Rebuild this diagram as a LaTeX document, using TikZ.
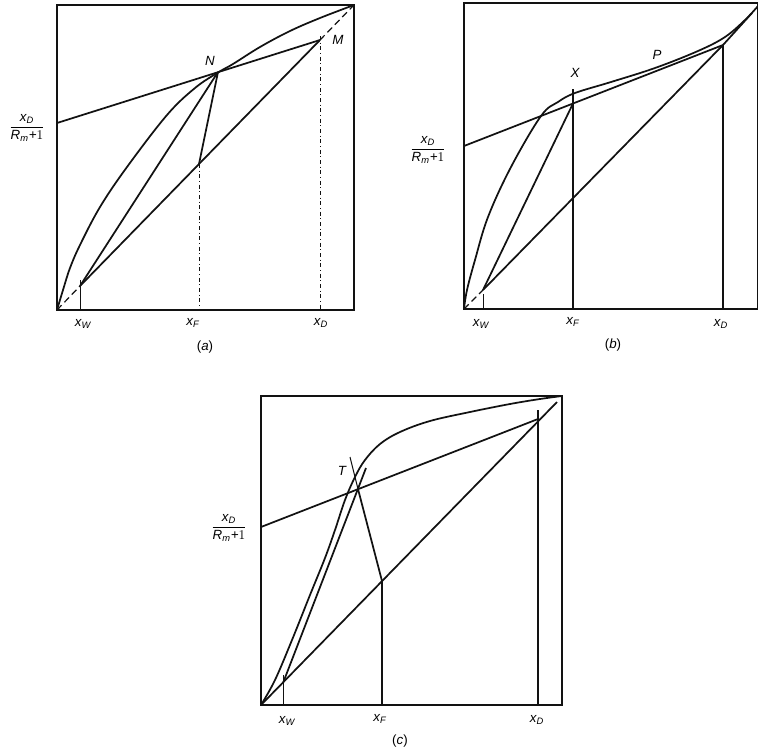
\documentclass[tikz,border=0pt]{standalone}
\usepackage{fontspec}
\setmainfont{Liberation Sans}
\usepackage{amsmath}
\usetikzlibrary{calc}
\definecolor{ink}{RGB}{18,18,18}
\tikzset{
  frame/.style={draw=ink,line width=1.2pt},
  opline/.style={draw=ink,line width=1.3pt},
  eqcurve/.style={draw=ink,line width=1.3pt,smooth,tension=0.6},
  thinline/.style={draw=ink,line width=0.75pt},
  dashline/.style={draw=ink,line width=0.9pt,dash pattern=on 5pt off 3pt},
  lbl/.style={font=\normalsize\itshape,inner sep=1pt},
}
\newcommand{\xsb}[1]{x\textsubscript{#1}}
\newcommand{\yfrac}{$\dfrac{\textit{x}_{\textit{D}}}{\textit{R}_{\textit{m}}\textit{+}1}$}

\begin{document}
\begin{tikzpicture}[x=0.75pt,y=-0.75pt]
  \useasboundingbox (0,0) rectangle (758,754);

  % (a)
  \coordinate (aO) at (57,310);
  \coordinate (aE) at (354,5);
  \coordinate (aW) at (80,286);
  \coordinate (aF) at (199,164);
  \coordinate (aM) at (320,40);
  \coordinate (aI) at (57,123);
  \coordinate (aN) at (218,72);
  \draw[frame] (aO) rectangle (aE);
  \draw[dashline] (aO) -- (aW);
  \draw[opline] (aW) -- (aM);
  \draw[dashline] (aM) -- (aE);
  \draw[eqcurve] plot coordinates {(57,310) (63,290) (70,268) (80,245) (100,207) (127,167)
    (167,115) (195,88) (218,72.5) (233,64) (260,47) (290,31) (320,18) (354,5)};
  \draw[opline] (aI) -- (aM);
  \draw[opline] (aW) -- (aN);
  \draw[opline] (aN) -- (aF);
  \draw[thinline,dash dot] (aF) -- (aF |- aO);
  \draw[thinline] ($(aW)+(0,-6)$) -- (aW |- aO);
  \draw[thinline,dash dot] ($(aM)+(0,-4)$) -- (aM |- aO);
  \node[lbl] (aNl) at (210,61) {N};
  \node[lbl] (aMl) at (338,40) {M};
  \node[lbl] (aYl) at (27,128) {\yfrac};
  \node[lbl] (aWl) at (83,324) {\xsb{W}};
  \node[lbl] (aFl) at (193,323) {\xsb{F}};
  \node[lbl] (aDl) at (321,323) {\xsb{D}};
  \node[lbl,font=\normalsize] (aCap) at (205,347) {(\textit{a})};

  % (b)
  \coordinate (bO) at (464,309);
  \coordinate (bE) at (758,3);
  \coordinate (bW) at (483,290);
  \coordinate (bF) at (573,198);
  \coordinate (bD) at (723,45);
  \coordinate (bT) at (752,13);
  \coordinate (bI) at (464,146);
  \coordinate (bQ) at (573,103.5);
  \coordinate (bX) at (573,89);
  \draw[frame] (bO) rectangle (bE);
  \draw[dashline] (bO) -- (bW);
  \draw[opline] (bW) -- (bD);
  \draw[opline] (bD) -- (bT);
  \draw[eqcurve] plot coordinates {(464,309) (467,290) (475,260) (488,217) (511,167) (541,116)
    (558,102) (575,93) (611,82) (655,68) (698,51) (725,37) (745,20) (758,6)};
  \draw[opline] (bI) -- (bD);
  \draw[opline] (bW) -- (bQ);
  \draw[thinline,line width=1pt] (bX) -- (bX |- bO);
  \draw[thinline] ($(bW)+(0,4)$) -- (bW |- bO);
  \draw[thinline,line width=1pt] (bD) -- (bD |- bO);
  \node[lbl] (bXl) at (575,73) {X};
  \node[lbl] (bPl) at (657,55) {P};
  \node[lbl] (bYl) at (428,150) {\yfrac};
  \node[lbl] (bWl) at (481,324) {\xsb{W}};
  \node[lbl] (bFl) at (573,322) {\xsb{F}};
  \node[lbl] (bDl) at (721,324) {\xsb{D}};
  \node[lbl,font=\normalsize] (bCap) at (613,345) {(\textit{b})};

  % (c)
  \coordinate (cO) at (261,705);
  \coordinate (cE) at (562,396);
  \coordinate (cT) at (557,402);
  \coordinate (cW) at (283,683);
  \coordinate (cF) at (382,581);
  \coordinate (cD) at (538,419);
  \coordinate (cI) at (261,527);
  \coordinate (cQ) at (358,489);
  \coordinate (cS) at (366,468);
  \coordinate (cR) at (350,457);
  \draw[frame] (cO) rectangle (cE);
  \draw[opline] (cO) -- (cT);
  \draw[eqcurve] plot coordinates {(261,705) (275,680) (292,640) (310,595) (325,558) (335,530)
    (345,500) (355,477) (365,460) (380,444) (400,432) (430,421) (470,412) (510,404) (540,399) (562,396)};
  \draw[opline] (cI) -- (cD);
  \draw[opline] (cW) -- (cS);
  \draw[opline] (cF) -- (cQ);
  \draw[thinline] (cQ) -- (cR);
  \draw[thinline,line width=1pt] (cF) -- (cF |- cO);
  \draw[thinline] ($(cW)+(0,-8)$) -- (cW |- cO);
  \draw[thinline,line width=1pt] ($(cD)+(0,-9)$) -- (cD |- cO);
  \node[lbl] (cTl) at (342,471) {T};
  \node[lbl] (cYl) at (229,528) {\yfrac};
  \node[lbl] (cWl) at (287,721) {\xsb{W}};
  \node[lbl] (cFl) at (380,719) {\xsb{F}};
  \node[lbl] (cDl) at (537,720) {\xsb{D}};
  \node[lbl,font=\normalsize] (cCap) at (400,741) {(\textit{c})};
\end{tikzpicture}
\end{document}
